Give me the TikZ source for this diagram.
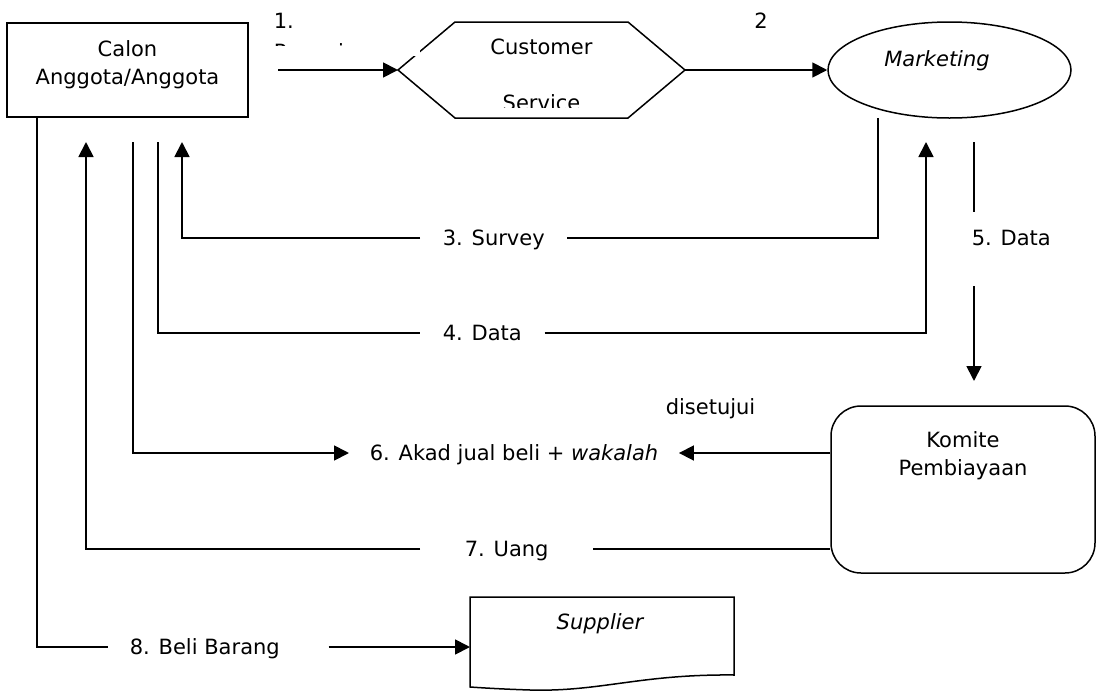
\documentclass[tikz,border=0pt]{standalone}
\usepackage{fontspec}
\setmainfont{DejaVu Sans}
\usetikzlibrary{arrows.meta,shapes.geometric}

\begin{document}
\begin{tikzpicture}[x=0.5pt, y=-0.5pt, line width=0.75pt,
    font=\fontsize{10.5}{14}\selectfont,
    arr/.style={line width=0.9pt, -{Triangle[length=7.5pt, width=7.5pt]}},
    lbl/.style={inner xsep=11pt, inner ysep=0pt, text height=7pt, text depth=0pt},
    txt/.style={align=center, inner sep=0pt}]

    \useasboundingbox (0,0) rectangle (1099,691);

    % Calon anggota
    \node[draw, minimum width=120.5pt, minimum height=47pt, inner sep=0pt] (calon) at (127.5,70) {};
    \node[txt] (calontxt) at (127.5,64.5) {Calon\\Anggota/Anggota};

    % Customer service
    \coordinate (csW) at (398,70);
    \coordinate (csE) at (685,70);
    \draw (csW) -- (455,22) -- (628,22) -- (csE) -- (628,118) -- (455,118) -- cycle;
    \node[anchor=base, inner sep=0pt] (cstxt) at (541.5,54) {Customer};
    \begin{scope}
      \clip (455,22) rectangle (628,107);
      \node[anchor=base, inner sep=0pt] (cstxtb) at (541.5,110) {Service};
    \end{scope}

    % Label 1 (terpotong)
    \fill[white] (268,8) rectangle (420,56);
    \node[anchor=base west, inner sep=0pt] (t1) at (273,28) {1.};
    \begin{scope}
      \clip (268,8) rectangle (420,45);
      \node[anchor=base west, inner sep=0pt] (t1b) at (273,59) {Pengajuan};
    \end{scope}
    \node[anchor=base, inner sep=0pt] (t2) at (761,28) {2};

    % Marketing
    \node[draw, ellipse, minimum width=121.5pt, minimum height=48pt, inner sep=0pt] (mkt) at (949.5,70) {};
    \node[anchor=base, inner sep=0pt] (mkttxt) at (937,66) {\itshape Marketing};

    % Komite pembiayaan
    \node[draw, rounded corners=15pt, minimum width=132pt, minimum height=83.5pt] (kom) at (963,489.5) {};
    \node[txt] (komtxt) at (963,455.5) {Komite\\Pembiayaan};

    % Supplier
    \draw (470,597) -- (734,597) -- (734,675)
      .. controls (640,674) and (600,692) .. (530,690)
      .. controls (500,689) and (485,688) .. (470,687) -- cycle;
    \coordinate (supW) at (470,647);
    \node[anchor=base, inner sep=0pt] (suptxt) at (600,629) {\itshape Supplier};

    % Label alur
    \node[lbl, anchor=west] (t3) at (420,238) {3. Survey};
    \node[lbl, anchor=west] (t4) at (420,333) {4. Data};
    \node[anchor=base west, inner sep=0pt] (t5) at (971,245) {5. Data};
    \node[anchor=base west, inner sep=0pt] (tok) at (665,414) {disetujui};
    \node[lbl, anchor=west, inner xsep=10pt] (t6) at (349,453) {6. Akad jual beli + \textit{wakalah}};
    \node[lbl, anchor=west, inner xsep=22pt] (t7) at (420,549) {7. Uang};
    \node[lbl, anchor=west, inner xsep=10.5pt] (t8) at (108,647) {8. Beli Barang};

    % Titik ujung
    \coordinate (s1) at (278,70);
    \coordinate (s3) at (878,118);
    \coordinate (e3) at (182,142);
    \coordinate (s4) at (158,142);
    \coordinate (e4) at (926,142);
    \coordinate (s5) at (974,142);
    \coordinate (m5a) at (974,212);
    \coordinate (m5b) at (974,286);
    \coordinate (e5) at (974,381);
    \coordinate (s6) at (133,142);
    \coordinate (e7) at (86,142);
    \coordinate (s8) at (37,117);

    % Alur
    \draw[arr] (s1) -- (csW);
    \draw[arr] (csE) -- (mkt.west);
    \draw (s3) |- (t3.east);
    \draw[arr] (t3.west) -| (e3);
    \draw (s4) |- (t4.west);
    \draw[arr] (t4.east) -| (e4);
    \draw (s5) -- (m5a);
    \draw[arr] (m5b) -- (e5);
    \draw[arr] (s6) |- (t6.west);
    \draw[arr] (kom.west |- t6.east) -- (t6.east);
    \draw (kom.west |- t7.east) -- (t7.east);
    \draw[arr] (t7.west) -| (e7);
    \draw (s8) |- (t8.west);
    \draw[arr] ([xshift=13.5pt]t8.east) -- (supW);

\end{tikzpicture}
\end{document}
